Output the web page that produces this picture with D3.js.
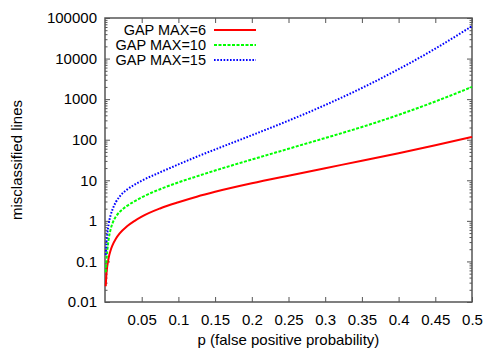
<!DOCTYPE html>
<html>
<head>
<meta charset="utf-8">
<script src="https://cdn.jsdelivr.net/npm/d3@7"></script>
<style>
  body { margin: 0; background: #fff; }
  text { font-family: "Liberation Sans", Arial, Helvetica, sans-serif; }
</style>
</head>
<body>
<div id="chart"></div>
<script>
// values
const pValues = [0.001, 0.002, 0.003, 0.005, 0.0075, 0.01, 0.015, 0.02, 0.03, 0.04, 0.05,
                 0.075, 0.1, 0.125, 0.15, 0.2, 0.25, 0.3, 0.35, 0.4, 0.45, 0.5];
const gap6  = [0.0245, 0.05, 0.074, 0.123, 0.184, 0.245, 0.367, 0.49, 0.733, 0.989, 1.27,
               2.02, 2.88, 3.94, 5.19, 8.41, 13.0, 19.9, 30.3, 46.6, 73.0, 117];
const gap10 = [0.054, 0.105, 0.174, 0.355, 0.603, 0.851, 1.29, 1.66, 2.34, 3.02, 3.8,
               6.03, 8.86, 12.5, 17.4, 32.5, 59.8, 110, 206, 409, 875, 1995];
const gap15 = [0.145, 0.288, 0.457, 0.832, 1.35, 1.86, 2.95, 3.98, 5.89, 7.76, 9.77,
               15.7, 24.6, 38.1, 57.5, 129, 295, 716, 1884, 5465, 17580, 63100];

const seriesNames = ["GAP MAX=6", "GAP MAX=10", "GAP MAX=15"];
const xTicks = [0.05, 0.1, 0.15, 0.2, 0.25, 0.3, 0.35, 0.4, 0.45, 0.5];
const yTicks = [0.01, 0.1, 1, 10, 100, 1000, 10000, 100000];

const width = 498;
const height = 349;
const margin = { top: 18, right: 26, bottom: 47, left: 105 };

const svg = d3.select("#chart")
  .append("svg")
  .attr("width", width)
  .attr("height", height);

const x = d3.scaleLinear()
  .domain([0, 0.5])
  .range([margin.left, width - margin.right]);

const y = d3.scaleLog()
  .domain([0.01, 100000])
  .range([height - margin.bottom, margin.top]);

// minor ticks 2..9 per decade
const yMinor = [];
yTicks.slice(0, -1).forEach(d => {
  for (let k = 2; k <= 9; k++) yMinor.push(d * k);
});

const fmtY = d => (d >= 1 ? d3.format("d")(d) : String(d));

function styleAxis(g) {
  g.select(".domain").remove();
  g.selectAll(".tick line").attr("stroke", "#555").attr("stroke-width", 1);
  g.selectAll(".tick text").attr("fill", "#000").style("font-size", "15px");
}

// bottom / top
svg.append("g")
  .attr("transform", `translate(0,${height - margin.bottom})`)
  .call(d3.axisBottom(x).tickValues(xTicks).tickSize(-5).tickPadding(12).tickSizeOuter(0).tickFormat(d => String(d)))
  .call(styleAxis);

svg.append("g")
  .attr("transform", `translate(0,${margin.top})`)
  .call(d3.axisTop(x).tickValues(xTicks).tickSize(-5).tickSizeOuter(0).tickFormat(""))
  .call(styleAxis);

// left / right
svg.append("g")
  .attr("transform", `translate(${margin.left},0)`)
  .call(d3.axisLeft(y).tickValues(yTicks).tickSize(-5).tickPadding(8).tickSizeOuter(0).tickFormat(fmtY))
  .call(styleAxis);

svg.append("g")
  .attr("transform", `translate(${margin.left},0)`)
  .call(d3.axisLeft(y).tickValues(yMinor).tickSize(-2.5).tickSizeOuter(0).tickFormat(""))
  .call(styleAxis);

svg.append("g")
  .attr("transform", `translate(${width - margin.right},0)`)
  .call(d3.axisRight(y).tickValues(yTicks).tickSize(-5).tickSizeOuter(0).tickFormat(""))
  .call(styleAxis);

svg.append("g")
  .attr("transform", `translate(${width - margin.right},0)`)
  .call(d3.axisRight(y).tickValues(yMinor).tickSize(-2.5).tickSizeOuter(0).tickFormat(""))
  .call(styleAxis);

// border
svg.append("rect")
  .attr("x", margin.left)
  .attr("y", margin.top)
  .attr("width", width - margin.left - margin.right)
  .attr("height", height - margin.top - margin.bottom)
  .attr("fill", "none")
  .attr("stroke", "#555")
  .attr("stroke-width", 1.5);

// axis titles
svg.append("text")
  .attr("x", (margin.left + width - margin.right) / 2)
  .attr("y", 345)
  .attr("text-anchor", "middle")
  .style("font-size", "15px")
  .text("p (false positive probability)");

svg.append("text")
  .attr("transform", `translate(22,${(margin.top + height - margin.bottom) / 2}) rotate(-90)`)
  .attr("text-anchor", "middle")
  .style("font-size", "15px")
  .text("misclassified lines");

// curves
const series = [
  { name: seriesNames[0], values: gap6,  color: "#ff0000", dash: null,      w: 2 },
  { name: seriesNames[1], values: gap10, color: "#00ff00", dash: "3,1.5",   w: 2 },
  { name: seriesNames[2], values: gap15, color: "#0000ff", dash: "1.6,1.6", w: 2 }
];

const line = d3.line()
  .x(d => x(d[0]))
  .y(d => y(d[1]))
  .curve(d3.curveMonotoneX);

series.forEach(s => {
  svg.append("path")
    .datum(pValues.map((p, i) => [p, s.values[i]]))
    .attr("fill", "none")
    .attr("stroke", s.color)
    .attr("stroke-width", s.w)
    .attr("stroke-dasharray", s.dash)
    .attr("d", line);
});

// legend
const legendY = [30, 45, 60];
series.forEach((s, i) => {
  svg.append("text")
    .attr("x", 206)
    .attr("y", legendY[i])
    .attr("dy", "0.35em")
    .attr("text-anchor", "end")
    .style("font-size", "14.5px")
    .text(s.name);
  svg.append("line")
    .attr("x1", 214)
    .attr("x2", 256)
    .attr("y1", legendY[i])
    .attr("y2", legendY[i])
    .attr("stroke", s.color)
    .attr("stroke-width", s.w)
    .attr("stroke-dasharray", s.dash);
});
</script>
</body>
</html>
